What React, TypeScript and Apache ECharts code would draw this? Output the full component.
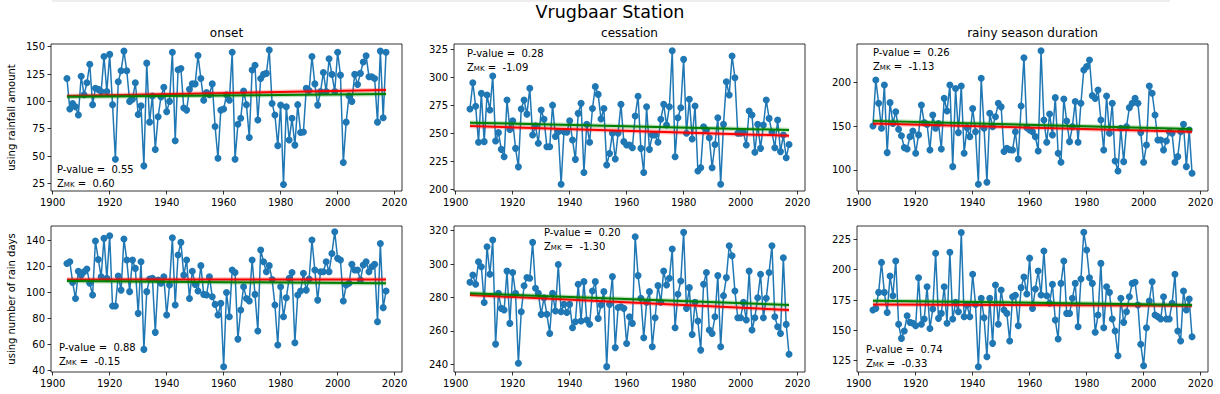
import React, { useEffect, useRef } from "react";
import * as echarts from "echarts";

const FONT = "DejaVu Sans";

const years: number[] = Array.from({ length: 113 }, (_, i) => 1905 + i);
const trendYears = [1905, 2017];
const xTicks = [1900, 1920, 1940, 1960, 1980, 2000, 2020];

// onset, using rainfall amount
const onsetRain = [
  121, 93, 98, 95, 87.5, 123, 106, 117, 134, 97,
  112, 111, 109, 141, 109, 143, 97, 47, 118, 128,
  146, 128, 100, 102, 117, 88, 96, 41, 135, 81,
  105, 56, 86, 104, 113, 90.5, 100, 145, 64, 129,
  130, 94, 92, 111, 116, 116, 142, 121, 101, 108,
  106, 116, 77, 48, 92, 93, 106, 101, 145, 47,
  79, 84.5, 109.5, 97, 67, 128.7, 133, 83, 121, 124.7,
  125.6, 147, 98, 87.5, 59.5, 96.6, 24, 95, 64.6, 84.5,
  60, 97, 71.6, 72, 112, 110, 141, 116, 96.6, 109,
  126.5, 109, 139, 124.7, 109, 145, 124, 44, 81, 105,
  100, 124.7, 115.5, 125.6, 136, 141.8, 122.6, 122.6, 121, 81,
  146, 85, 145,
];
// cessation, using rainfall amount
const cessRain = [
  271.6, 295, 274, 242, 285.5, 242.5, 284, 270.7, 301, 243,
  250.5, 235.6, 229, 279.6, 253.4, 261, 236.5, 220, 271.6, 279.6,
  267, 290, 248.4, 256.7, 241, 270.7, 262.4, 238, 238, 275,
  247, 251.4, 204.5, 251.4, 250.8, 261, 244, 226.7, 267.7, 276.6,
  215, 258, 242, 272, 291.5, 284.6, 262.6, 272, 221.7, 232,
  250, 227, 250,
  275.7, 242.5, 239.5, 239.5, 237, 265.3, 283, 236.5, 215, 273.6,
  235.6, 248.4, 248.4, 241.9, 262.4, 275.7, 257.3, 273.6, 323.5, 229,
  263.8, 272.7, 315.8, 249.9, 280.2, 244.8, 274.2, 216.3, 219.3, 255.8,
  252.8, 246, 219.3, 240, 263.8, 204.5, 257.9, 295.9, 284, 318.8,
  299.5, 249.9, 249.9, 250.8, 239.5, 269.8, 266.2, 233, 257.9, 236.5,
  257.3, 279.6, 263.2, 250.8, 237, 261.8, 233.6, 248.4, 228.2, 240,
];
// rainy season duration, using rainfall amount
const durRain = [
  150.2, 202.7, 176, 147.5, 197, 119.8, 176.8, 153, 166.5, 146.4,
  139, 125.5, 124, 138, 144.5, 119, 140, 174, 154, 152,
  122.8, 162.7, 147.5, 153, 124, 181.7, 167.3, 197, 103.8, 193,
  142.6, 195.8, 119, 148.3, 138, 170, 143.7, 83.7, 204.6, 147.5,
  86, 164.6, 149.4, 160.8, 176, 172, 121, 124.7, 123, 122.8,
  143.7, 112.5, 173, 228.1,
  148.3, 145.6, 143.7, 138, 121.7, 236.1, 157, 131.6, 163.9, 140,
  182.5, 119, 108.7, 181, 155.9, 132.3, 149.4, 178, 131.6, 176,
  214, 217.9, 225.5, 184.8, 181.7, 191.3, 157, 122.8, 184.4, 141.8,
  176, 110.3, 98.9, 147.5, 109.5, 149.4, 171.1, 176, 181.7, 176,
  142.6, 108.7, 128.5, 195.8, 187.5, 162.7, 134.2, 134.2, 122.8, 133.1,
  143.7, 141.8, 108.7, 115.2, 143.7, 152.1, 103.8, 145.6, 96.2,
];
// onset, using number of rain days
const onsetDays = [
  122, 123.3, 107.4, 95, 116, 113, 115.6, 117.7, 106.7, 97.7,
  139.2, 125, 111.8, 141.3, 110.5, 143.3, 89.2, 89.2, 112.3, 101.5,
  140.8, 124.6, 100.3, 124.6, 118.2, 83.6, 123.3, 55.9, 100.3, 110,
  110.5, 69, 109.2, 106.7, 111.8, 82.3, 105.4, 141.8, 90, 128.5,
  138.2, 113, 124.6, 95, 116, 105.9, 100.8, 120.3, 98.2, 97.7,
  111.8, 96.4, 90.5, 82.3, 91.3, 42.6,
  99.7, 81, 116.9, 115.1, 63.8, 86.2, 104.1, 95.1, 93.1, 124.6,
  98.2, 70, 132.3, 123.3, 115.6, 120.3, 109.7, 90, 59.2, 104.1,
  81, 95.6, 110.5, 115.1, 61, 97.7, 100.8, 114.4, 101.5, 110,
  140, 116.9, 93.8, 115.6, 115.6, 123.3, 115.6, 129.7, 146.4, 125.9,
  124.6, 93.1, 105.4, 106.7, 121.3, 116.9, 116.9, 109.2, 120.8, 123.3,
  115.6, 119.5, 121.3, 77.2, 137.4, 88, 100.8,
];
// cessation, using number of rain days
const cessDays = [
  289.1, 293.5, 287.9, 301.4, 298.4, 277, 310.4, 293.9, 314.4, 252.1,
  282.5, 273.5, 272.5, 295.8, 264.5, 295, 282.5, 240.6, 271.5, 287,
  291.9, 291.5, 313, 285.5, 282.5, 269.9, 279.9, 270, 258.5, 282.5,
  271.9, 299.8, 271.5, 275.9, 271, 275.9, 261.9, 265.5, 287.9, 265.9,
  289.5, 266.5, 264, 283.9, 289.5, 267.5, 275.5, 283.5, 238.6, 275.9,
  292.5, 250, 274,
  274.5, 273.5, 252.5, 268.5, 264.5, 316.4, 293.1, 279.5, 255.9, 277.1,
  283.5, 250.5, 267.9, 287.1, 277.1, 295.8, 287.5, 291.5, 309, 261.9,
  281.9, 289.9, 319, 273.5, 285.9, 257.9, 277.1, 265.9, 248.5, 287.9,
  295, 260.5, 258.5, 268.5, 293.1, 250.5, 281.1, 291.9, 311, 305,
  283.9, 267.9, 267.9, 277.1, 266.5, 295.8, 260.5, 267.9, 279.9, 293.9,
  267.9, 279.5, 295, 311, 268.5, 262.5, 258.5, 303.8, 263.9, 246,
];
// rainy season duration, using number of rain days
const durDays = [
  166.8, 168.1, 181.3, 206, 181.3, 164.8, 194.8, 178.6, 207.1, 155,
  143.4, 149.5, 162.1, 156.6, 155.8, 153.8, 193.4, 155, 159.3, 186,
  151.6, 167.6, 213.5, 159.9, 164, 186, 155.8, 214.3, 159.3, 173.1,
  165.4, 230.7, 161.3, 170.9, 161.3, 196.2, 171.4, 120, 176.4, 160.4,
  128.3, 176.4, 139.3, 187.4, 155, 183.2, 166.8, 164, 141.2, 177.7,
  179, 153.8, 185.2, 194, 180, 209.5, 168,
  184.1, 198.9, 179.1, 215.4, 178.6, 172.3, 187.9, 158.5, 142.9, 188.7,
  207.1, 164, 164, 176.4, 188.7, 153, 192.3, 230.8, 216.2, 193.4,
  188.7, 148.4, 162.6, 205.2, 152.2, 186, 181.3, 159.3, 149.5, 129.1,
  176.4, 156.6, 165.4, 177.7, 188.7, 189.6, 170.9, 138.5, 120.9, 152.2,
  174.2, 190.1, 162.6, 161.3, 159.3, 177.7, 159.3, 159.3, 172.3, 196.2,
  149.5, 141.2, 182.4, 166.8, 175.8, 144.8,
];

// trend lines (red: linear fit, green: Sen's slope), value at 1905 and 2017
const onsetRainRed = [104.9, 110.4];
const onsetRainGreen = [104.3, 106.7];
const cessRainRed = [256.4, 247.8];
const cessRainGreen = [259.4, 252.9];
const durRainRed = [153, 143.7];
const durRainGreen = [156, 146.8];
const onsetDaysRed = [109.7, 109.7];
const onsetDaysGreen = [108.5, 106.7];
const cessDaysRed = [281.5, 272.5];
const cessDaysGreen = [282.5, 275.5];
const durDaysRed = [171.4, 170.3];
const durDaysGreen = [174.5, 171];

const yTicks1 = [25, 50, 75, 100, 125, 150];
const yTicks2 = [200, 225, 250, 275, 300, 325];
const yTicks3 = [100, 150, 200];
const yTicks4 = [40, 60, 80, 100, 120, 140];
const yTicks5 = [240, 260, 280, 300, 320];
const yTicks6 = [125, 150, 175, 200, 225];

const pValues = ["0.55", "0.28", "0.26", "0.88", "0.20", "0.74"];
const zValues = ["0.60", "-1.09", "-1.13", "-0.15", "-1.30", "-0.33"];
const colTitles = ["onset", "cessation", "rainy season duration"];
const rowTitles = ["using rainfall amount", "using number of rain days"];
const mainTitle = "Vrugbaar Station";

const panels = [
  { vals: onsetRain, red: onsetRainRed, green: onsetRainGreen, ticks: yTicks1, yMin: 18, yMax: 152.5 },
  { vals: cessRain, red: cessRainRed, green: cessRainGreen, ticks: yTicks2, yMin: 198.5, yMax: 329.5 },
  { vals: durRain, red: durRainRed, green: durRainGreen, ticks: yTicks3, yMin: 76, yMax: 243.7 },
  { vals: onsetDays, red: onsetDaysRed, green: onsetDaysGreen, ticks: yTicks4, yMin: 38.5, yMax: 150.8 },
  { vals: cessDays, red: cessDaysRed, green: cessDaysGreen, ticks: yTicks5, yMin: 235.4, yMax: 322.8 },
  { vals: durDays, red: durDaysRed, green: durDaysGreen, ticks: yTicks6, yMin: 115.7, yMax: 236 },
];

// layout (pixels)
const gridLefts = [51, 454, 857];
const gridTops = [44, 226];
const gridHeights = [147, 146];
const gridWidth = 351;
const statPos = [
  [57, 169], [467, 53], [873, 52],
  [59, 347], [544, 232], [866, 349],
];

export default function App() {
  const ref = useRef<HTMLDivElement>(null);
  useEffect(() => {
    document.body.style.margin = "0";
    if (!ref.current) return;
    const chart = echarts.init(ref.current, undefined, { renderer: "svg" });
    const grids: any[] = [];
    const xAxes: any[] = [];
    const yAxes: any[] = [];
    const series: any[] = [];
    const graphics: any[] = [];

    panels.forEach((p, i) => {
      const row = Math.floor(i / 3);
      const col = i % 3;
      grids.push({
        left: gridLefts[col],
        top: gridTops[row],
        width: gridWidth,
        height: gridHeights[row],
        show: true,
        borderColor: "#000",
        borderWidth: 0.8,
        containLabel: false,
      });
      xAxes.push({
        type: "value",
        gridIndex: i,
        min: 1899.4,
        max: 2022.6,
        axisLine: { show: false, onZero: false },
        axisTick: { show: true, inside: false, length: 3.5, customValues: xTicks, lineStyle: { color: "#000", width: 0.8 } },
        axisLabel: {
          customValues: xTicks,
          formatter: (v: number) => String(v),
          fontFamily: FONT,
          fontSize: 10,
          color: "#000",
          margin: 6,
        },
        splitLine: { show: false },
      });
      yAxes.push({
        type: "value",
        gridIndex: i,
        min: p.yMin,
        max: p.yMax,
        axisLine: { show: false, onZero: false },
        axisTick: { show: true, inside: false, length: 3.5, customValues: p.ticks, lineStyle: { color: "#000", width: 0.8 } },
        axisLabel: {
          customValues: p.ticks,
          formatter: (v: number) => String(v),
          fontFamily: FONT,
          fontSize: 10,
          color: "#000",
          margin: 6,
        },
        splitLine: { show: false },
      });
      series.push({
        type: "line",
        xAxisIndex: i,
        yAxisIndex: i,
        data: years.map((y, k) => [y, p.vals[k]]),
        symbol: "circle",
        symbolSize: 7,
        itemStyle: { color: "#1f77b4" },
        lineStyle: { color: "#1f77b4", width: 1.5 },
        z: 2,
      });
      const addTrend = (vals: number[], color: string, z: number) => {
        series.push({
          type: "line",
          xAxisIndex: i,
          yAxisIndex: i,
          data: trendYears.map((y, k) => [y, vals[k]]),
          showSymbol: false,
          symbol: "none",
          lineStyle: { color, width: 4.5, opacity: 0.25 },
          z,
          silent: true,
        });
        series.push({
          type: "line",
          xAxisIndex: i,
          yAxisIndex: i,
          data: trendYears.map((y, k) => [y, vals[k]]),
          showSymbol: false,
          symbol: "none",
          lineStyle: { color, width: 2 },
          z,
          silent: true,
        });
      };
      addTrend(p.red, "#ff0000", 3);
      addTrend(p.green, "#008000", 4);

      const [sx, sy] = statPos[i];
      graphics.push({
        type: "text",
        x: sx,
        y: sy,
        z: 10,
        style: {
          text: `P-value =  ${pValues[i]}`,
          font: `10px '${FONT}'`,
          fill: "#000",
          verticalAlign: "middle",
        },
      });
      graphics.push({
        type: "text",
        x: sx,
        y: sy + 13.5,
        z: 10,
        style: {
          text: `{z|Z}{s|MK}{z| =  ${zValues[i]}}`,
          fill: "#000",
          verticalAlign: "middle",
          rich: {
            z: { fontFamily: FONT, fontSize: 10, lineHeight: 12, verticalAlign: "bottom", fill: "#000" },
            s: { fontFamily: FONT, fontSize: 7, lineHeight: 8, verticalAlign: "bottom", fill: "#000" },
          },
        },
      });
    });

    colTitles.forEach((t, c) => {
      graphics.push({
        type: "text",
        x: gridLefts[c] + gridWidth / 2,
        y: 33,
        style: { text: t, font: `12px '${FONT}'`, fill: "#000", align: "center", verticalAlign: "middle" },
      });
    });
    rowTitles.forEach((t, r) => {
      graphics.push({
        type: "text",
        x: 11,
        y: gridTops[r] + gridHeights[r] / 2,
        rotation: Math.PI / 2,
        style: { text: t, font: `10px '${FONT}'`, fill: "#000", align: "center", verticalAlign: "middle" },
      });
    });
    graphics.push({
      type: "text",
      x: 610,
      y: 12,
      style: { text: mainTitle, font: `17.5px '${FONT}'`, fill: "#000", align: "center", verticalAlign: "middle" },
    });
    graphics.push({
      type: "line",
      shape: { x1: 52, y1: 1, x2: 1170, y2: 1 },
      style: { stroke: "#dddddd", lineWidth: 1 },
    });

    chart.setOption({
      animation: false,
      backgroundColor: "#ffffff",
      grid: grids,
      xAxis: xAxes,
      yAxis: yAxes,
      series,
      graphic: graphics,
    });
    return () => chart.dispose();
  }, []);
  return <div ref={ref} style={{ width: 1220, height: 394 }} />;
}
